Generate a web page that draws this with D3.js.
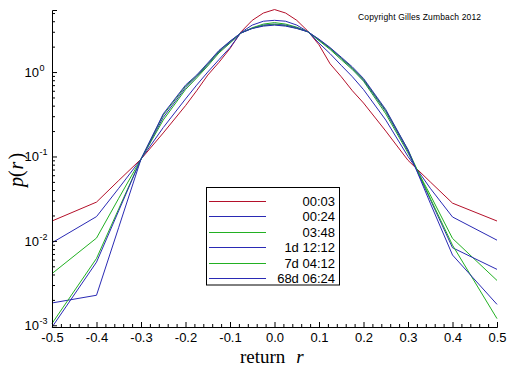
<!DOCTYPE html>
<html><head><meta charset="utf-8">
<script src="https://cdn.jsdelivr.net/npm/d3@7"></script>
<style>body{margin:0;background:#fff}svg{display:block}</style>
</head><body>
<svg id="c" width="512" height="366"></svg>
<script>
const returns = [-0.5,-0.4,-0.35,-0.3,-0.25,-0.2,-0.175,-0.15,-0.125,-0.1,-0.075,-0.05,-0.025,0,
  0.025,0.05,0.075,0.1,0.125,0.15,0.175,0.2,0.25,0.3,0.35,0.4,0.5];
const labels = ["00:03","00:24","03:48","1d 12:12","7d 04:12","68d 06:24"];
const colors = ["#b4102a","#2a2ab4","#22b022","#2a2ab4","#22b022","#2a2ab4"];
const p_0003 = [0.0172,0.0288,0.052,0.093,0.19,0.40,0.6,0.92,1.3,1.9,3.0,4.1,5.0,5.5,
  5.0,4.1,3.05,2.1,1.25,0.88,0.6,0.43,0.2,0.09,0.05,0.028,0.0172];
const p_0024 = [0.0095,0.0194,0.042,0.093,0.22,0.48,0.7,1.0,1.4,1.95,2.95,3.6,4.0,4.1,
  4.0,3.6,3.0,2.2,1.65,1.2,0.88,0.62,0.27,0.1,0.042,0.0192,0.0102];
const p_0348 = [0.0041,0.0108,0.032,0.093,0.27,0.62,0.85,1.18,1.68,2.2,2.9,3.35,3.7,3.85,
  3.7,3.4,3.0,2.35,1.85,1.4,1.07,0.78,0.32,0.11,0.035,0.0107,0.0034];
const p_1d = [0.00184,0.00227,0.0145,0.093,0.29,0.65,0.88,1.22,1.73,2.25,2.9,3.3,3.6,3.7,
  3.6,3.35,3.0,2.4,1.9,1.45,1.1,0.8,0.34,0.115,0.031,0.0083,0.0046];
const p_7d = [0.00105,0.0062,0.024,0.093,0.31,0.68,0.9,1.25,1.77,2.3,2.92,3.3,3.55,3.65,
  3.55,3.3,3.0,2.42,1.92,1.47,1.12,0.82,0.35,0.12,0.032,0.0089,0.0012];
const p_68d = [0.00095,0.0056,0.0228,0.093,0.32,0.7,0.92,1.28,1.8,2.32,2.92,3.28,3.5,3.6,
  3.5,3.28,3.0,2.45,1.95,1.5,1.15,0.84,0.36,0.12,0.028,0.0068,0.00177];
const series = [p_0003,p_0024,p_0348,p_1d,p_7d,p_68d];
const xTicks = [-0.5,-0.4,-0.3,-0.2,-0.1,0,0.1,0.2,0.3,0.4,0.5];
const yExps = [-3,-2,-1,0];

const svg = d3.select("#c");
const F = "'Liberation Sans', Arial, sans-serif";
const x = d3.scaleLinear().domain([-0.5,0.5]).range([52,497]);
const y = d3.scaleLog().domain([Math.pow(10,-3.02), Math.pow(10,0.735)]).range([327,10]);

// curves
const line = d3.line().x((d,i)=>x(returns[i])).y(d=>y(d));
series.forEach((s,k)=>{
  svg.append("path").attr("d", line(s)).attr("fill","none")
    .attr("stroke", colors[k]).attr("stroke-width",1);
});

// axes
const gx = svg.append("g").attr("transform","translate(0,327)");
gx.call(d3.axisBottom(x).tickValues(xTicks).tickSize(-5).tickPadding(6)
  .tickFormat(d=>d3.format(".1f")(d).replace("−","-")));
gx.select(".domain").attr("stroke","#000");
gx.selectAll("text").attr("font-family",F).attr("font-size",13).attr("fill","#000");
const minorX = d3.range(-0.5,0.5001,0.02).filter(v=>Math.abs(Math.round(v*10)-v*10)>1e-6);
gx.selectAll(".mx").data(minorX).enter().append("line")
  .attr("x1",d=>x(d)+0.5).attr("x2",d=>x(d)+0.5).attr("y1",0).attr("y2",-3).attr("stroke","#000");

const gy = svg.append("g").attr("transform","translate(52,0)");
gy.call(d3.axisLeft(y).tickValues(yExps.map(e=>Math.pow(10,e))).tickSize(-5).tickFormat(""));
gy.select(".domain").attr("stroke","#000");
const minorY = [];
[-3,-2,-1,0].forEach(e=>{for(let m=2;m<=9;m++){const v=m*Math.pow(10,e); if(v<=Math.pow(10,0.735)) minorY.push(v);}});
gy.selectAll(".my").data(minorY).enter().append("line")
  .attr("y1",d=>y(d)+0.5).attr("y2",d=>y(d)+0.5).attr("x1",0).attr("x2",3).attr("stroke","#000");
yExps.forEach(e=>{
  svg.append("text").attr("x",39).attr("y",y(Math.pow(10,e))+5)
    .attr("font-family",F).attr("font-size",13).attr("text-anchor","end").attr("fill","#000").text("10");
  svg.append("text").attr("x",39.5).attr("y",y(Math.pow(10,e))-1)
    .attr("font-family",F).attr("font-size",9).attr("fill","#000").text(e===0?"0":String(e));
});

// axis titles
const xt = svg.append("text").attr("x",240).attr("y",363)
  .attr("font-family","'Liberation Serif', 'Times New Roman', serif").attr("font-size",19).attr("fill","#000");
xt.append("tspan").text("return ");
xt.append("tspan").attr("dx",6).attr("font-style","italic").text("r");
const yt = svg.append("text").attr("transform","translate(23,170) rotate(-90)").attr("text-anchor","middle")
  .attr("font-family","'Liberation Serif', 'Times New Roman', serif").attr("font-size",20).attr("fill","#000");
yt.append("tspan").attr("font-style","italic").text("p");
yt.append("tspan").text("(");
yt.append("tspan").attr("font-style","italic").attr("dx",1).text("r");
yt.append("tspan").attr("dx",2).text(")");

// copyright
svg.append("text").attr("x",358).attr("y",20).attr("font-family",F).attr("font-size",8.5)
  .attr("textLength",123).attr("fill","#000").text("Copyright Gilles Zumbach 2012");

// legend
svg.append("rect").attr("x",206.5).attr("y",187.5).attr("width",133).attr("height",97.5)
  .attr("fill","#fff").attr("stroke","#000");
const ly = d3.scaleLinear().domain([0,5]).range([201,278]);
labels.forEach((l,k)=>{
  svg.append("line").attr("x1",209).attr("x2",266).attr("y1",Math.round(ly(k))+0.5).attr("y2",Math.round(ly(k))+0.5)
    .attr("stroke",colors[k]);
  svg.append("text").attr("x",335).attr("y",ly(k)+5).attr("text-anchor","end")
    .attr("font-family",F).attr("font-size",13).attr("fill","#000").text(l);
});
</script>
</body></html>
